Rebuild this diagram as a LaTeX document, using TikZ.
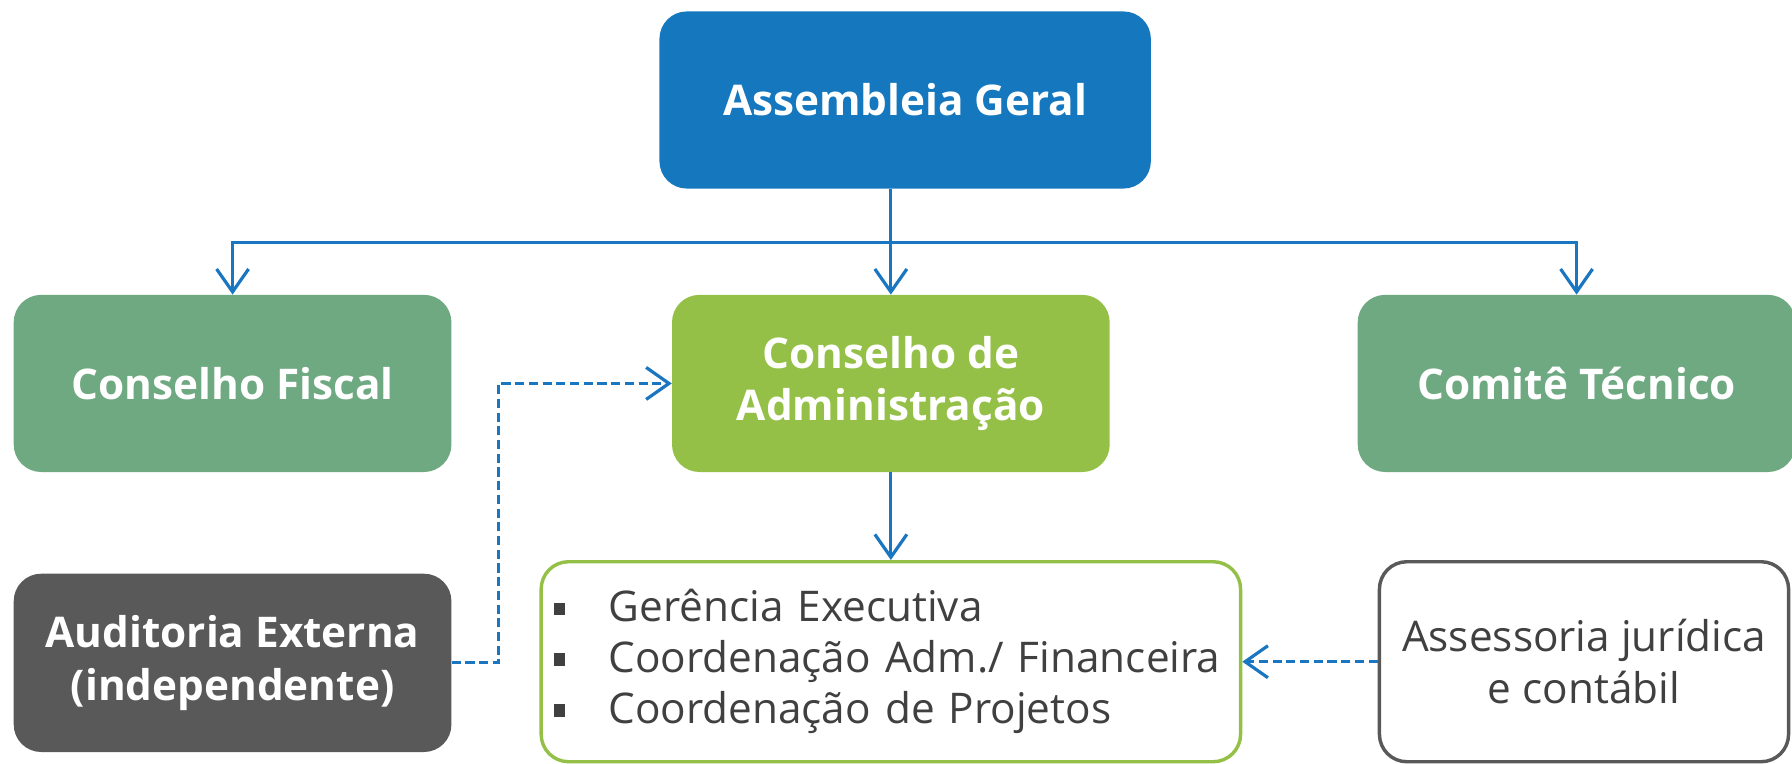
\documentclass[tikz,border=0pt]{standalone}
\usepackage{fontspec}
\setmainfont{Open Sans}
\usetikzlibrary{arrows.meta}
\definecolor{agblue}{HTML}{1578BE}
\definecolor{lineblue}{HTML}{1A76C0}
\definecolor{fgreen}{HTML}{6FA982}
\definecolor{agreen}{HTML}{94C047}
\definecolor{dgray}{HTML}{595959}
\definecolor{tgray}{HTML}{404040}
\tikzset{
  box/.style={rounded corners=24pt, minimum width=383pt, minimum height=155pt, inner sep=0pt, align=center, text=white, font=\fontsize{37}{46}\selectfont\bfseries},
  conn/.style={draw=lineblue, line width=2.8pt, -{Straight Barb[length=20pt,width=28pt,line width=2.8pt]}},
  plain/.style={draw=lineblue, line width=2.8pt},
  dconn/.style={conn, dash pattern=on 8pt off 4pt}
}
\newcommand{\sqbul}{\makebox[48pt][l]{\raisebox{6pt}{\rule{10pt}{11pt}}}}
\begin{document}
\begin{tikzpicture}[x=1pt,y=-1pt]
\useasboundingbox (0,0) rectangle (1568,668);
\node[box, fill=agblue, minimum width=430pt] (AG) at (792,87.5) {Assembleia Geral};
\node[box, fill=fgreen] (CF) at (203.5,335.5) {Conselho Fiscal};
\node[box, fill=agreen] (CA) at (779.5,335.5) {Conselho de\\Administração};
\node[box, fill=fgreen] (CT) at (1379.5,335.5) {Comitê Técnico};
\node[box, fill=dgray, minimum height=156pt] (AE) at (203.5,580) {Auditoria Externa\\(independente)};
\node[draw=agreen, line width=3pt, rounded corners=24pt, minimum width=612pt, minimum height=175pt, inner xsep=11pt, inner ysep=0pt, text width=590pt, align=left, text=tgray, font=\fontsize{37}{44.5}\selectfont] (LB) at (779.5,579)
  {\sqbul Gerência Executiva\\\sqbul Coordenação Adm./ Financeira\\\sqbul Coordenação de Projetos};
\node[draw=dgray, line width=3pt, rounded corners=24pt, minimum width=358pt, minimum height=175pt, inner sep=0pt, align=center, text=tgray, font=\fontsize{37}{46}\selectfont] (AJ) at (1386,579) {Assessoria jurídica\\e contábil};
\coordinate (J) at (779.5,212);
\draw[plain] (AG.south -| CA.north) -- (J);
\draw[conn] (J) -- (CA.north);
\draw[conn] (J) -| (CF.north);
\draw[conn] (J) -| (CT.north);
\draw[conn] (CA.south) -- (LB.north);
\draw[dconn] (AE.east) -- ++(41,0) |- (CA.west);
\draw[dconn] (AJ.west) -- (LB.east);
\end{tikzpicture}
\end{document}
